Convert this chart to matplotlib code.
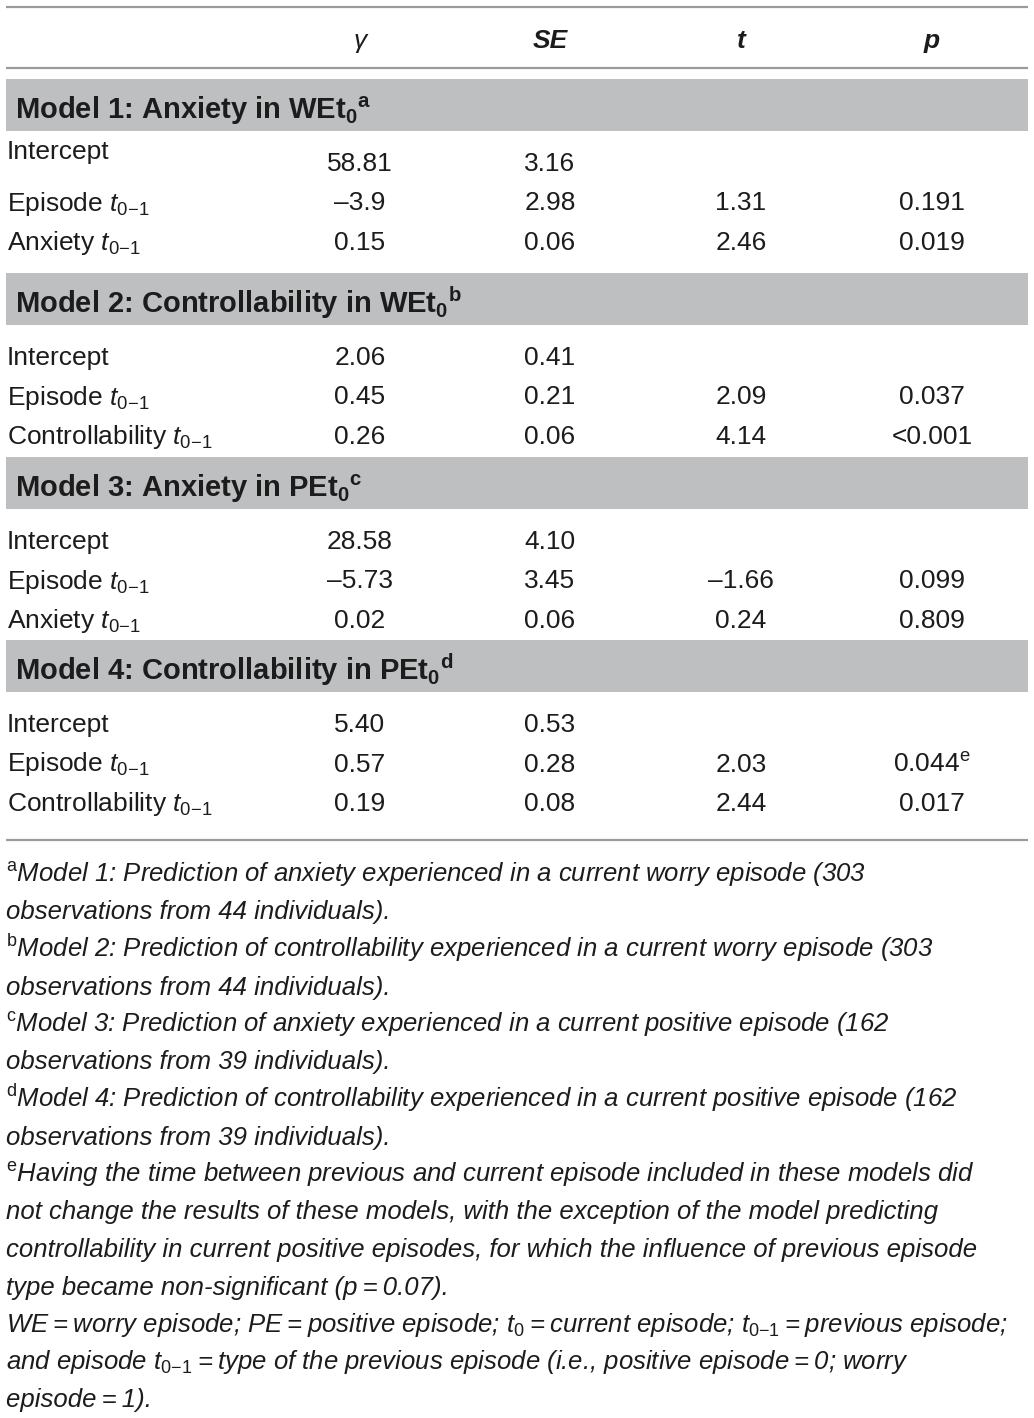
import matplotlib
matplotlib.use("Agg")
import matplotlib.pyplot as plt

plt.rcParams['font.family'] = ['Liberation Sans', 'DejaVu Sans']
plt.rcParams['mathtext.fontset'] = 'custom'
plt.rcParams['mathtext.rm'] = 'Liberation Sans'
plt.rcParams['mathtext.it'] = 'Liberation Sans:italic'
plt.rcParams['mathtext.bf'] = 'Liberation Sans:bold'

TS = "\u2009"  # thin space

# ---------------- data ----------------
col_headers = ["γ", "SE", "t", "p"]
model_titles = [
    r"Model 1: Anxiety in WE$\mathbf{t}_{\mathbf{0}}{}^{\mathbf{a}}$",
    r"Model 2: Controllability in WE$\mathbf{t}_{\mathbf{0}}{}^{\mathbf{b}}$",
    r"Model 3: Anxiety in PE$\mathbf{t}_{\mathbf{0}}{}^{\mathbf{c}}$",
    r"Model 4: Controllability in PE$\mathbf{t}_{\mathbf{0}}{}^{\mathbf{d}}$",
]
sub = r" $\mathit{t}_{\mathrm{0{-}1}}$"
row_labels = [
    ["Intercept", "Episode" + sub, "Anxiety" + sub],
    ["Intercept", "Episode" + sub, "Controllability" + sub],
    ["Intercept", "Episode" + sub, "Anxiety" + sub],
    ["Intercept", "Episode" + sub, "Controllability" + sub],
]
gamma = [["58.81", "–3.9", "0.15"],
         ["2.06", "0.45", "0.26"],
         ["28.58", "–5.73", "0.02"],
         ["5.40", "0.57", "0.19"]]
se = [["3.16", "2.98", "0.06"],
      ["0.41", "0.21", "0.06"],
      ["4.10", "3.45", "0.06"],
      ["0.53", "0.28", "0.08"]]
tval = [["", "1.31", "2.46"],
        ["", "2.09", "4.14"],
        ["", "–1.66", "0.24"],
        ["", "2.03", "2.44"]]
pval = [["", "0.191", "0.019"],
        ["", "0.037", "<0.001"],
        ["", "0.099", "0.809"],
        ["", r"0.044$^{\mathrm{e}}$", "0.017"]]

t0 = r"$\mathit{t}_{\mathit{0}}$"
t01 = r"$\mathit{t}_{\mathit{0{-}1}}$"
EQ = TS + "=" + TS
footnotes = [
    r"${}^{\mathrm{a}}$Model 1: Prediction of anxiety experienced in a current worry episode (303",
    "observations from 44 individuals).",
    r"${}^{\mathrm{b}}$Model 2: Prediction of controllability experienced in a current worry episode (303",
    "observations from 44 individuals).",
    r"${}^{\mathrm{c}}$Model 3: Prediction of anxiety experienced in a current positive episode (162",
    "observations from 39 individuals).",
    r"${}^{\mathrm{d}}$Model 4: Prediction of controllability experienced in a current positive episode (162",
    "observations from 39 individuals).",
    r"${}^{\mathrm{e}}$Having the time between previous and current episode included in these models did",
    "not change the results of these models, with the exception of the model predicting",
    "controllability in current positive episodes, for which the influence of previous episode",
    "type became non-significant (p" + EQ + "0.07).",
    "WE" + EQ + "worry episode; PE" + EQ + "positive episode; " + t0 + EQ
    + "current episode; " + t01 + EQ + "previous episode;",
    "and episode " + t01 + EQ + "type of the previous episode (i.e., positive episode"
    + EQ + "0; worry",
    "episode" + EQ + "1).",
]

# ---------------- layout ----------------
W, H = 1034, 1418
fig = plt.figure(figsize=(W / 100, H / 100), dpi=100)
ax = fig.add_axes([0, 0, 1, 1])
ax.set_xlim(0, W)
ax.set_ylim(H, 0)
ax.axis('off')

txt = '#1c1c1c'
line_c = '#9b9b9b'
band_c = '#bebfc1'
fs = 19
col_x = [360, 550, 741, 932]
x0, x1 = 6, 1028

for y in (7, 68, 840):
    ax.plot([x0, x1], [y, y], color=line_c, lw=1.6, solid_capstyle='butt')

for i, (cx, h) in enumerate(zip(col_x, col_headers)):
    ax.text(cx, 48, h, ha='center', va='baseline', fontsize=fs,
            fontweight='normal' if i == 0 else 'bold', fontstyle='italic',
            color=txt)

band_tops = [79, 273, 457, 640]
band_h = 52
row_gap = 39.5
for m in range(4):
    bt = band_tops[m]
    ax.add_patch(plt.Rectangle((x0, bt), x1 - x0, band_h, color=band_c, lw=0))
    ax.text(15, bt + 40, model_titles[m], ha='left', va='baseline',
            fontsize=21, fontweight='bold', color=txt)
    base = bt + band_h + 40
    for r in range(3):
        yb = base + r * row_gap
        ylab = yb - 12 if (m == 0 and r == 0) else yb
        ax.text(7, ylab, row_labels[m][r], ha='left', va='baseline',
                fontsize=fs, color=txt)
        for cx, vals in zip(col_x, (gamma, se, tval, pval)):
            v = vals[m][r]
            if v:
                ax.text(cx, yb, v, ha='center', va='baseline',
                        fontsize=fs, color=txt)

for i, line in enumerate(footnotes):
    ax.text(6, 882 + i * 37.5, line, ha='left', va='baseline',
            fontsize=fs - 0.5, fontstyle='italic', color=txt)

fig.savefig('out.png', dpi=100, facecolor='white')
